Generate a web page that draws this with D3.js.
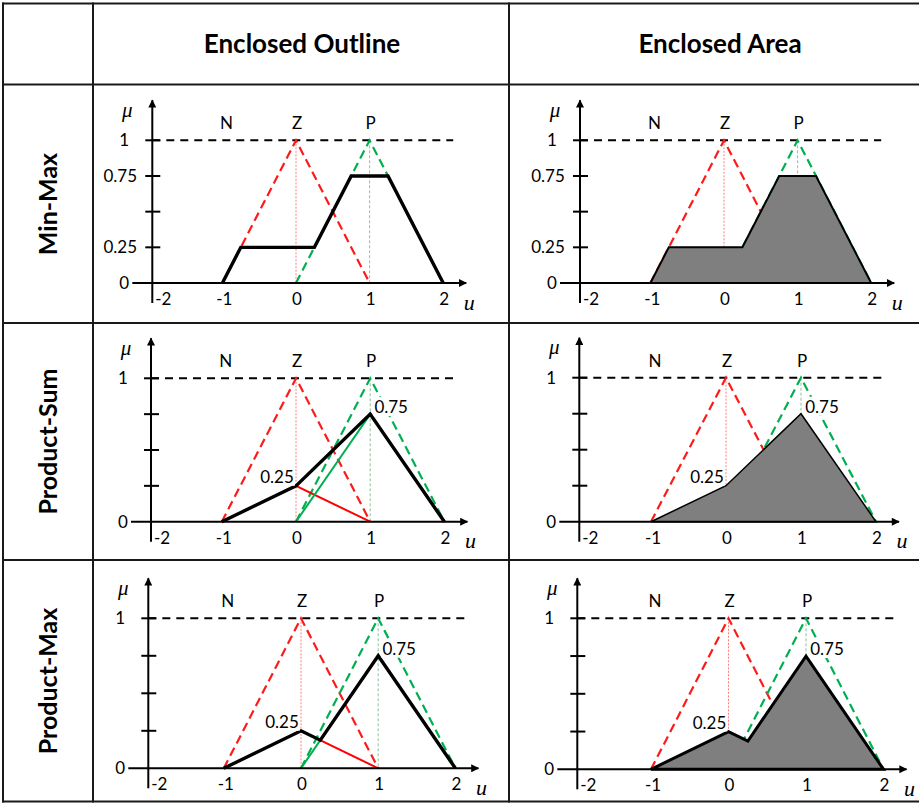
<!DOCTYPE html>
<html>
<head>
<meta charset="utf-8">
<script src="https://cdn.jsdelivr.net/npm/d3@7"></script>
<style>
  body { margin: 0; background: #fff; }
  text { font-family: Lato, "Open Sans", sans-serif; fill: #000; }
  .sym { font-family: "Liberation Serif", "DejaVu Serif", serif; font-style: italic; }
</style>
</head>
<body>
<div id="chart"></div>
<script>
// headings
const columns = ["Enclosed Outline", "Enclosed Area"];
const methods = ["Min-Max", "Product-Sum", "Product-Max"];

// fuzzy sets (u, mu)
const setNames = ["N", "Z", "P"];
const setCenters = [-1, 0, 1];
const zSet = [[-1, 0], [0, 1], [1, 0]];
const pSet = [[0, 0], [1, 1], [2, 0]];

// sets scaled by the rule strengths (product inference)
const zScaled = [[-1, 0], [0, 0.25], [1, 0]];
const pScaled = [[0, 0], [1, 0.75], [2, 0]];

// aggregated output sets
const minMaxOut = [[-1, 0], [-0.75, 0.25], [0.25, 0.25], [0.75, 0.75], [1.25, 0.75], [2, 0]];
const productSumOut = [[-1, 0], [0, 0.25], [1, 0.75], [2, 0]];
const productMaxOut = [[-1, 0], [0, 0.25], [0.25, 0.1875], [1, 0.75], [2, 0]];
const outputs = [minMaxOut, productSumOut, productMaxOut];

// ticks
const uTicks = [-2, -1, 0, 1, 2];
const muTicks = [0, 0.25, 0.5, 0.75, 1];
const muLabelsMinMax = ["0", "0.25", "", "0.75", "1"];
const muLabelsProduct = ["0", "", "", "", "1"];
const peakValues = [[0, 0.25], [1, 0.75]];
const peakLabels = ["0.25", "0.75"];

const W = 919, H = 803;

const svg = d3.select("#chart").append("svg")
  .attr("width", W)
  .attr("height", H);

// arrow head for the axes
svg.append("defs").append("marker")
  .attr("id", "arrow")
  .attr("viewBox", "0 0 10 10")
  .attr("refX", 9).attr("refY", 5)
  .attr("markerUnits", "userSpaceOnUse")
  .attr("markerWidth", 9).attr("markerHeight", 8)
  .attr("orient", "auto")
  .append("path")
    .attr("d", "M0,0 L10,5 L0,10 z")
    .attr("fill", "#000");

// table grid
const vLines = [3, 93, 509];
const hLines = [3.5, 84.5, 323, 560, 801.5];
const grid = svg.append("g");
vLines.forEach(x => grid.append("line")
  .attr("x1", x).attr("x2", x).attr("y1", 2.5).attr("y2", 802.5)
  .attr("stroke", "#1a1a1a").attr("stroke-width", 2));
hLines.forEach(y => grid.append("line")
  .attr("x1", 2).attr("x2", W).attr("y1", y).attr("y2", y)
  .attr("stroke", "#1a1a1a").attr("stroke-width", 2));

// headers
const headerX = [302, 720];
columns.forEach((c, i) => svg.append("text")
  .attr("x", headerX[i]).attr("y", 53)
  .attr("text-anchor", "middle")
  .style("font-size", "26px").style("font-weight", 700)
  .text(c));

const rowMid = [204, 441.5, 681];
methods.forEach((m, i) => svg.append("text")
  .attr("transform", "translate(57," + rowMid[i] + ") rotate(-90)")
  .attr("text-anchor", "middle")
  .style("font-size", "25px").style("font-weight", 700)
  .text(m));

// panel placement: y axis position, pixel of u=0, px per u, pixel of mu=0, px per mu
const panels = [
  { row: 0, col: 0, ax: 152.3, x0: 296,   kx: 73.6, y0: 283,   ky: 142.7 },
  { row: 0, col: 1, ax: 580,   x0: 724,   kx: 73.6, y0: 283,   ky: 142.7 },
  { row: 1, col: 0, ax: 151,   x0: 296,   kx: 74.2, y0: 521.7, ky: 143.4 },
  { row: 1, col: 1, ax: 579.3, x0: 726,   kx: 75,   y0: 521.7, ky: 144 },
  { row: 2, col: 0, ax: 148.3, x0: 301,   kx: 77.2, y0: 768.3, ky: 150 },
  { row: 2, col: 1, ax: 577.3, x0: 728.5, kx: 77.5, y0: 769.3, ky: 151 }
];

panels.forEach(drawPanel);

function drawPanel(p) {
  const x = d3.scaleLinear().domain([0, 1]).range([p.x0, p.x0 + p.kx]);
  const y = d3.scaleLinear().domain([0, 1]).range([p.y0, p.y0 - p.ky]);
  const line = d3.line().x(d => x(d[0])).y(d => y(d[1]));
  const g = svg.append("g");
  const isArea = p.col === 1;
  const out = outputs[p.row];

  // thin guides at the peaks of Z and P
  g.append("line")
    .attr("x1", x(0)).attr("x2", x(0)).attr("y1", y(1)).attr("y2", y(0))
    .attr("stroke", "#ff7f7f").attr("stroke-width", 1)
    .attr("stroke-dasharray", "2,1.5");
  g.append("line")
    .attr("x1", x(1)).attr("x2", x(1)).attr("y1", y(1)).attr("y2", y(0))
    .attr("stroke", "#8fbf9f").attr("stroke-width", 1)
    .attr("stroke-dasharray", "3,2");

  // mu = 1 dashed reference
  g.append("line")
    .attr("x1", p.ax).attr("x2", x(2) + 10)
    .attr("y1", y(1)).attr("y2", y(1))
    .attr("stroke", "#000").attr("stroke-width", 2)
    .attr("stroke-dasharray", "8,6");

  // Z and P membership functions
  g.append("path").attr("d", line(zSet))
    .attr("fill", "none").attr("stroke", "#ff1a1a").attr("stroke-width", 2.2)
    .attr("stroke-dasharray", "9,5");
  g.append("path").attr("d", line(pSet))
    .attr("fill", "none").attr("stroke", "#00b050").attr("stroke-width", 2.2)
    .attr("stroke-dasharray", "9,5");

  if (!isArea && p.row > 0) {
    g.append("path").attr("d", line(zScaled))
      .attr("fill", "none").attr("stroke", "#ff0000").attr("stroke-width", 2);
    g.append("path").attr("d", line(pScaled))
      .attr("fill", "none").attr("stroke", "#00b050").attr("stroke-width", 2);
  }

  // aggregated output
  if (isArea) {
    g.append("path").attr("d", line(out) + "Z")
      .attr("fill", "#7f7f7f").attr("stroke", "#000")
      .attr("stroke-width", p.row === 1 ? 1.5 : (p.row === 2 ? 3 : 2))
      .attr("stroke-linejoin", "miter");
  } else {
    g.append("path").attr("d", line(out))
      .attr("fill", "none").attr("stroke", "#000").attr("stroke-width", 3.4);
  }

  // axes
  g.append("line")
    .attr("x1", p.ax - 20).attr("x2", x(2) + 23)
    .attr("y1", y(0)).attr("y2", y(0))
    .attr("stroke", "#000").attr("stroke-width", 2)
    .attr("marker-end", "url(#arrow)");
  g.append("line")
    .attr("x1", p.ax).attr("x2", p.ax)
    .attr("y1", y(0) + 20).attr("y2", y(1) - 40)
    .attr("stroke", "#000").attr("stroke-width", 2)
    .attr("marker-end", "url(#arrow)");

  const muLabels = p.row === 0 ? muLabelsMinMax : muLabelsProduct;
  muTicks.forEach((t, i) => {
    if (t > 0) {
      g.append("line")
        .attr("x1", p.ax - 7).attr("x2", p.ax + 8)
        .attr("y1", y(t)).attr("y2", y(t))
        .attr("stroke", "#000").attr("stroke-width", 2);
    }
    if (muLabels[i]) {
      g.append("text")
        .attr("x", p.ax - (muLabels[i].length > 1 ? 32 : 28))
        .attr("y", y(t))
        .attr("dy", "0.35em")
        .attr("text-anchor", "middle")
        .style("font-size", "17px")
        .text(muLabels[i]);
    }
  });

  uTicks.forEach(t => {
    const tx = t === -2 ? p.ax + 3 : x(t) + (t < 0 ? 2 : 1);
    g.append("text")
      .attr("x", tx)
      .attr("y", y(0) + 16)
      .attr("dy", "0.35em")
      .attr("text-anchor", t === -2 ? "start" : "middle")
      .style("font-size", "17px")
      .text(t);
  });

  // set names
  setNames.forEach((s, i) => g.append("text")
    .attr("x", x(setCenters[i]) + (i === 0 ? 4 : 1))
    .attr("y", y(1) - 17)
    .attr("dy", "0.35em")
    .attr("text-anchor", "middle")
    .style("font-size", "17px")
    .text(s));

  // axis symbols
  g.append("text").attr("class", "sym")
    .attr("x", p.ax - 25).attr("y", y(1) - 31)
    .attr("dy", "0.35em")
    .attr("text-anchor", "middle")
    .style("font-size", "21px")
    .text("\u03bc");
  g.append("text").attr("class", "sym")
    .attr("x", x(2) + 26).attr("y", y(0) + 19)
    .attr("dy", "0.35em")
    .attr("text-anchor", "middle")
    .style("font-size", "22px")
    .text("u");

  // peak values of the scaled sets
  if (p.row > 0) {
    const offs = [[-19, -9], [21, -7]];
    peakValues.forEach((v, i) => {
      const t = g.append("text")
        .attr("x", x(v[0]) + offs[i][0])
        .attr("y", y(v[1]) + offs[i][1])
        .attr("dy", "0.35em")
        .attr("text-anchor", "middle")
        .style("font-size", "17px")
        .text(peakLabels[i]);
      const b = t.node().getBBox();
      g.insert("rect", function () { return t.node(); })
        .attr("x", b.x - 1).attr("y", b.y + 1)
        .attr("width", b.width + 2).attr("height", b.height - 2)
        .attr("fill", "#fff");
    });
  }
}
</script>
</body>
</html>
